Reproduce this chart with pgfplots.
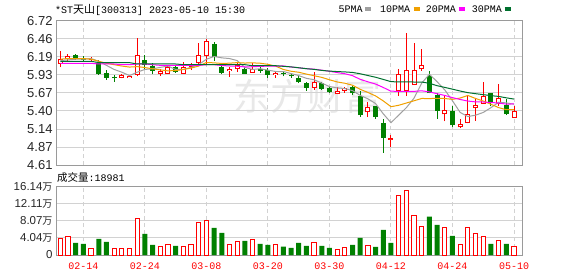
\documentclass[border=0pt]{standalone}
\usepackage{fontspec}
\usepackage{pgfplots}
\usepackage{pgfplotstable}
\pgfplotsset{compat=1.18}
\newfontfamily\lsans{Liberation Sans}
\newfontfamily\lmono{Liberation Mono}
\newfontfamily\cjk{Noto Sans CJK SC}
\definecolor{kred}{HTML}{FF0000}
\definecolor{kgreen}{HTML}{008000}
\definecolor{maA}{HTML}{A0A0A0}
\definecolor{maB}{HTML}{F0A000}
\definecolor{maC}{HTML}{FF00FF}
\definecolor{maD}{HTML}{00702E}
\definecolor{gridc}{HTML}{D2D2D2}
\definecolor{framec}{HTML}{9A9A9A}

\pgfplotstableread{
x o h l c
0 6.09 6.28 6.04 6.16
1 6.16 6.24 6.14 6.21
4 6.15 6.19 6.12 6.17
8 5.89 5.94 5.88 5.93
9 5.89 5.93 5.88 5.92
10 5.93 6.47 5.91 6.22
13 5.94 6.02 5.92 5.99
14 5.95 6.06 5.94 6.04
16 5.95 6.12 5.94 6.04
17 6.04 6.11 6.00 6.09
18 6.10 6.40 6.08 6.22
19 6.21 6.45 6.08 6.43
22 5.99 6.04 5.90 6.02
23 6.01 6.10 5.97 6.08
25 5.96 6.11 5.96 6.01
28 5.93 5.97 5.89 5.96
33 5.74 5.98 5.71 5.82
36 5.65 5.75 5.65 5.69
37 5.70 5.76 5.67 5.74
40 5.38 5.53 5.31 5.46
43 4.98 5.05 4.88 5.00
44 5.69 6.01 5.62 5.95
45 5.70 6.54 5.62 6.00
46 5.78 6.40 5.78 6.00
47 6.01 6.31 5.99 6.07
50 5.35 5.64 5.25 5.41
52 5.16 5.28 5.15 5.21
53 5.23 5.62 5.22 5.36
54 5.44 5.58 5.26 5.49
55 5.51 5.82 5.51 5.62
57 5.50 5.79 5.48 5.59
59 5.30 5.48 5.30 5.40
}\redk

\pgfplotstableread{
x o h l c
2 6.22 6.24 6.15 6.17
3 6.17 6.20 6.13 6.15
5 6.11 6.15 5.93 5.95
6 5.96 6.00 5.86 5.89
7 5.89 5.93 5.83 5.88
11 6.15 6.22 6.01 6.07
12 6.06 6.10 5.94 5.99
15 6.04 6.07 5.96 5.98
20 6.38 6.41 6.14 6.19
21 6.04 6.10 5.95 5.96
24 6.02 6.05 5.95 5.95
26 6.01 6.05 5.96 5.99
27 6.00 6.03 5.89 5.93
29 5.96 5.99 5.91 5.95
30 5.92 5.94 5.89 5.91
31 5.89 5.93 5.81 5.82
32 5.81 5.82 5.70 5.74
34 5.81 5.83 5.71 5.72
35 5.74 5.75 5.67 5.68
38 5.75 5.77 5.64 5.66
39 5.62 5.69 5.32 5.34
41 5.48 5.48 5.29 5.31
42 5.23 5.29 4.79 5.01
48 5.91 5.99 5.66 5.66
49 5.64 5.66 5.29 5.40
51 5.40 5.47 5.16 5.19
56 5.66 5.66 5.47 5.53
58 5.49 5.57 5.34 5.35
}\greenk

\pgfplotstableread{
x m5 m10 m20 m30
0 6.14 6.16 6.10 6.13
1 6.15 6.17 6.10 6.13
2 6.16 6.17 6.10 6.13
3 6.16 6.17 6.10 6.13
4 6.17 6.16 6.10 6.13
5 6.13 6.13 6.09 6.11
6 6.07 6.10 6.09 6.11
7 6.01 6.08 6.09 6.11
8 5.97 6.06 6.08 6.11
9 5.92 6.045 6.08 6.11
10 5.97 6.052 6.09 6.09
11 6.01 6.038 6.09 6.09
12 6.02 6.019 6.08 6.09
13 6.04 6.004 6.07 6.09
14 6.06 5.99 6.07 6.09
15 6.01 5.993 6.07 6.09
16 6.01 6.01 6.07 6.08
17 6.04 6.03 6.07 6.08
18 6.08 6.06 6.07 6.08
19 6.16 6.112 6.079 6.08
20 6.20 6.107 6.08 6.08
21 6.18 6.098 6.068 6.08
22 6.17 6.102 6.061 6.08
23 6.14 6.11 6.057 6.08
24 6.04 6.104 6.047 6.08
25 6.01 6.107 6.05 6.065
26 6.02 6.101 6.056 6.065
27 6.00 6.085 6.058 6.065
28 5.98 6.059 6.06 6.065
29 5.98 6.01 6.061 6.056
30 5.95 5.984 6.046 6.048
31 5.92 5.969 6.034 6.035
32 5.88 5.942 6.022 6.021
33 5.86 5.918 6.014 6.011
34 5.81 5.894 5.999 5.996
35 5.76 5.859 5.983 5.986
36 5.74 5.827 5.964 5.979
37 5.73 5.808 5.947 5.974
38 5.70 5.779 5.919 5.966
39 5.63 5.719 5.865 5.947
40 5.58 5.673 5.829 5.921
41 5.51 5.622 5.796 5.896
42 5.36 5.549 5.746 5.864
43 5.23 5.464 5.691 5.831
44 5.34 5.485 5.69 5.828
45 5.45 5.518 5.689 5.828
46 5.59 5.551 5.689 5.826
47 5.81 5.585 5.697 5.826
48 5.94 5.583 5.681 5.807
49 5.83 5.588 5.654 5.772
50 5.71 5.584 5.629 5.747
51 5.55 5.572 5.597 5.721
52 5.38 5.591 5.57 5.694
53 5.32 5.629 5.547 5.670
54 5.34 5.585 5.535 5.655
55 5.38 5.547 5.533 5.641
56 5.45 5.50 5.526 5.626
57 5.53 5.451 5.518 5.615
58 5.52 5.42 5.502 5.594
59 5.50 5.421 5.505 5.576
}\matab

\pgfplotstableread{
x v
0 3.80
1 4.27
4 1.58
7 1.58
8 1.58
9 1.42
10 8.70
13 1.90
14 2.53
16 1.90
17 2.53
18 7.75
19 8.23
22 2.53
23 3.24
25 3.72
28 2.37
33 3.01
36 1.35
37 1.82
40 2.14
44 13.93
45 15.19
46 9.42
47 6.80
50 6.41
52 2.53
53 6.57
54 5.14
55 4.27
57 3.48
59 1.90
}\redv

\pgfplotstableread{
x v
2 2.85
3 2.61
5 3.80
6 3.09
11 4.98
12 2.37
15 2.14
20 6.41
21 5.22
24 3.32
26 2.61
27 2.37
29 1.98
30 1.66
31 2.85
32 2.14
34 2.14
35 1.66
38 2.37
39 4.04
41 1.90
42 5.93
43 2.85
48 9.02
49 7.12
51 4.51
56 2.61
58 2.61
}\greenv

\pgfplotsset{
  kstyle/.style={
    scale only axis, width=466pt,
    xmin=-0.56, xmax=60.04,
    xtick={3,11,19,27,35,43,51,59},
    major tick length=0pt,
    xmajorgrids, ymajorgrids,
    x grid style={draw=gridc, dash pattern=on 4pt off 3pt, line width=1pt},
    y grid style={draw=gridc, line width=1pt},
    axis line style={draw=framec, line width=1pt},
  },
  body/.style 2 args={draw=none, mark=none, forget plot,
    error bars/.cd, y dir=plus, y explicit, error mark=none,
    error bar style={draw=#1, line width=#2, solid}},
}

\begin{document}
\begin{tikzpicture}
\path[use as bounding box] (0pt,0pt) rectangle (578pt,276pt);
% watermark
\node[anchor=west, inner sep=0pt, text=black!9, font=\cjk\fontsize{37}{37}\selectfont] at (233pt,180pt) {东方财富};
% title
\node[anchor=base west, inner sep=0pt] at (55pt,262.7pt)
  {\lmono\fontsize{10}{10}\selectfont *ST{\cjk\fontsize{11}{11}\selectfont 天山}[300313] 2023-05-10 15:30};
% legend
\node[anchor=base west, inner sep=0pt] at (338.3pt,263.7pt) {\lmono\fontsize{10}{10}\selectfont 5PMA\hspace{2.4pt}\textcolor{maA}{\rule[1.3pt]{6pt}{4pt}}};
\node[anchor=base west, inner sep=0pt] at (380pt,263.7pt) {\lmono\fontsize{10}{10}\selectfont 10PMA\hspace{3.3pt}\textcolor{maB}{\rule[1.3pt]{6pt}{4pt}}};
\node[anchor=base west, inner sep=0pt] at (425.7pt,263.7pt) {\lmono\fontsize{10}{10}\selectfont 20PMA\hspace{3pt}\textcolor{maC}{\rule[1.3pt]{6pt}{4pt}}};
\node[anchor=base west, inner sep=0pt] at (471.7pt,263.7pt) {\lmono\fontsize{10}{10}\selectfont 30PMA\hspace{2.6pt}\textcolor{maD}{\rule[1.3pt]{6pt}{4pt}}};
% volume caption
\node[anchor=base west, inner sep=0pt] at (57pt,94.5pt)
  {{\cjk\fontsize{10.5}{10.5}\selectfont 成交量}\lmono\fontsize{10}{10}\selectfont :18981};

\begin{axis}[kstyle,
  at={(56pt,111pt)}, anchor=south west, height=144pt,
  ymin=4.61, ymax=6.72,
  xticklabels={},
  ytick={4.61,4.87375,5.1375,5.40125,5.665,5.92875,6.1925,6.45625,6.72},
  yticklabels={4.61,4.87,5.14,5.40,5.67,5.93,6.19,6.46,6.72},
  yticklabel style={font=\lsans\fontsize{13}{13}\selectfont, text=black!85, inner sep=0pt, anchor=east, xshift=-3.3pt},
]
% wicks
\addplot[body={kred}{1pt}] table[x=x, y=l, y error expr=\thisrow{h}-\thisrow{l}] {\redk};
\addplot[body={kgreen}{1pt}] table[x=x, y=l, y error expr=\thisrow{h}-\thisrow{l}] {\greenk};
% bodies
\addplot[body={kred}{5pt}] table[x=x, y=o, y error expr={max(\thisrow{c}-\thisrow{o},0.015)}] {\redk};
\addplot[body={white}{3pt}] table[x=x, y expr=\thisrow{o}+0.0147, y error expr={max(\thisrow{c}-\thisrow{o}-0.0293,0.0001)}] {\redk};
\addplot[body={kgreen}{5pt}] table[x=x, y=c, y error expr={max(\thisrow{o}-\thisrow{c},0.015)}] {\greenk};
% moving averages
\addplot[maA, line width=1pt, mark=none] table[x=x, y=m5] {\matab};
\addplot[maB, line width=1pt, mark=none] table[x=x, y=m10] {\matab};
\addplot[maC, line width=1pt, mark=none] table[x=x, y=m20] {\matab};
\addplot[maD, line width=1pt, mark=none] table[x=x, y=m30] {\matab};
\end{axis}

\begin{axis}[kstyle,
  at={(56pt,21pt)}, anchor=south west, height=68.5pt,
  ymin=0, ymax=16.14,
  ytick={0,4.035,8.07,12.105,16.14},
  yticklabels={0,{4.04{\cjk\fontsize{10}{10}\selectfont 万}},{8.07{\cjk\fontsize{10}{10}\selectfont 万}},{12.11{\cjk\fontsize{10}{10}\selectfont 万}},{16.14{\cjk\fontsize{10}{10}\selectfont 万}}},
  yticklabel style={font=\lsans\fontsize{11.5}{11.5}\selectfont, text=black!85, inner sep=0pt, anchor=east, xshift=-3.3pt},
  xticklabels={02-14,02-24,03-08,03-20,03-30,04-12,04-24,05-10},
  xticklabel style={font=\lmono\fontsize{10}{10}\selectfont, text=kred, inner sep=0pt, anchor=base, yshift=-14pt},
]
\addplot[ybar, bar width=4.2pt, bar shift=0pt, draw=kred, fill=white, line width=1pt] table[x=x, y=v] {\redv};
\addplot[ybar, bar width=5pt, bar shift=0pt, draw=none, fill=kgreen] table[x=x, y=v] {\greenv};
\end{axis}
\end{tikzpicture}
\end{document}
